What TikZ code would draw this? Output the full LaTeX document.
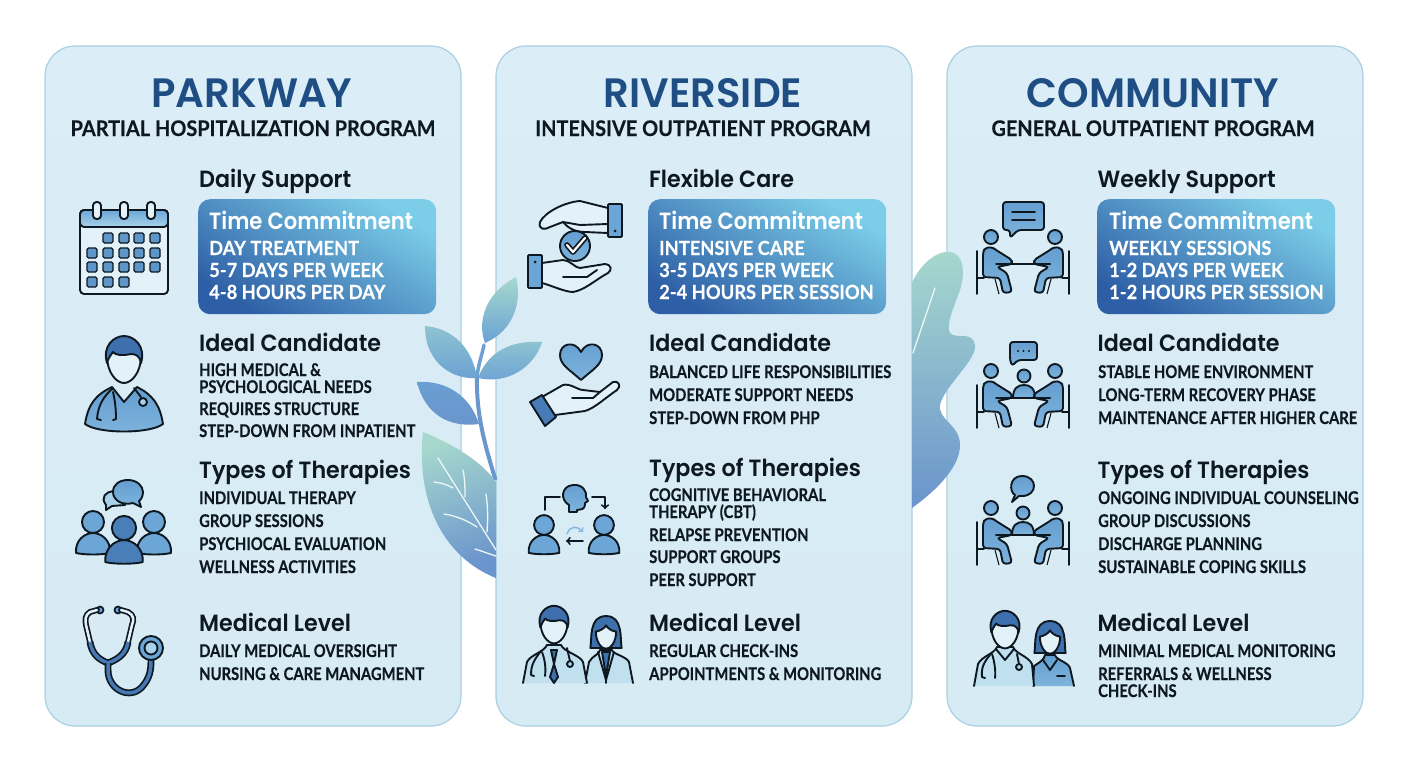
\documentclass[tikz,border=0pt]{standalone}
\usepackage{fontspec}
\setmainfont{Lato}
\newfontfamily\headfont[FakeStretch=0.945]{Poppins SemiBold}
\newfontfamily\titlefont[FakeStretch=0.98]{Poppins SemiBold}
\newfontfamily\timefont[FakeStretch=0.9]{Poppins SemiBold}
\newfontfamily\itemfont[FakeStretch=0.845,FakeBold=0.35]{Lato}
\newfontfamily\subfont[FakeStretch=0.925,FakeBold=0.25]{Lato}
\newfontfamily\linefont[FakeStretch=0.94,FakeBold=0.25]{Lato}
\definecolor{cardfill}{HTML}{D7EBF5}
\definecolor{paperfill}{HTML}{E3F1F8}
\definecolor{cardedge}{HTML}{A8CFE2}
\definecolor{ink}{HTML}{0E1820}
\definecolor{titleblue}{HTML}{1F4E84}
\definecolor{boxdark}{HTML}{2E5FA6}
\definecolor{boxmid}{HTML}{4A80BE}
\definecolor{boxlight}{HTML}{7CCDE8}
\definecolor{iconblue}{HTML}{6BA6D6}
\definecolor{iconlight}{HTML}{A9D2EA}
\definecolor{icondark}{HTML}{3F70AE}
\definecolor{leafteal}{HTML}{A6D8CE}
\definecolor{leafblue}{HTML}{6A94CC}
\tikzset{
    cardbox/.style={draw=cardedge, line width=1.2pt, top color=cardfill!90!white, bottom color=cardfill, rounded corners=30pt, minimum width=416pt, minimum height=680pt, inner sep=0pt},
    titletext/.style={anchor=base, text=titleblue, font=\titlefont\fontsize{41}{41}\selectfont},
    subtext/.style={anchor=base, text=ink, font=\subfont\bfseries\fontsize{21.5}{22}\selectfont},
    headtext/.style={anchor=base west, inner sep=0pt, text=ink, font=\headfont\fontsize{23.5}{24}\selectfont},
    itemtext/.style={anchor=base west, inner sep=0pt, text=ink, font=\itemfont\bfseries\fontsize{17.5}{18}\selectfont},
    timebox/.style={anchor=north west, top color=boxlight, middle color=boxmid, bottom color=boxdark, shading angle=-32, rounded corners=12pt, minimum width=238pt, minimum height=115pt, inner sep=0pt},
    timehead/.style={anchor=base west, inner sep=0pt, text=white, font=\timefont\fontsize{23.5}{24}\selectfont},
    timeline/.style={anchor=base west, inner sep=0pt, text=white, font=\linefont\bfseries\fontsize{19.5}{20}\selectfont},
    inkline/.style={draw=ink, line width=1.9pt, line join=round, line cap=round},
    iconshade/.style={top color=iconblue!85!icondark, bottom color=iconblue!70!iconlight},
    leafshade/.style={top color=leafteal, bottom color=leafblue},
    smallleaf/.style={top color=leafteal!60!iconblue, bottom color=iconblue!70!leafblue},
    veinline/.style={draw=white!80!leafteal, line width=1.3pt, line cap=round}
}
% busts and heads, drawn round the centre of the head
\newcommand{\bustshape}[4]{
    \begin{scope}[shift={(#1,#2)}, scale=#3]
        \draw[inkline, fill=#4] (-17,31) .. controls (-18,18) and (-8,11) .. (0,11) .. controls (8,11) and (18,18) .. (17,31) .. controls (8,33) and (-8,33) .. (-17,31) -- cycle;
        \draw[inkline, fill=#4] (0,0) circle (11);
    \end{scope}
}
\newcommand{\manhead}[3]{
    \begin{scope}[shift={(#1,#2)}, scale=#3]
        \draw[inkline, fill=paperfill] (-17,-4) .. controls (-17,12) and (-8,23) .. (0,23) .. controls (8,23) and (17,12) .. (17,-4) .. controls (17,-15) and (10,-22) .. (0,-22) .. controls (-10,-22) and (-17,-15) .. (-17,-4) -- cycle;
        \draw[inkline, fill=icondark] (-17,3) .. controls (-22,-14) and (-10,-24) .. (0,-24) .. controls (10,-24) and (22,-14) .. (17,3) .. controls (16,-3) and (13,-6) .. (7,-6) .. controls (-2,-4) and (-9,-5) .. (-11,-8) .. controls (-14,-4) and (-16,-1) .. (-17,3) -- cycle;
    \end{scope}
}
\newcommand{\womanhead}[3]{
    \begin{scope}[shift={(#1,#2)}, scale=#3]
        \draw[inkline, fill=icondark] (-20,18) .. controls (-18,5) and (-22,-23) .. (0,-23) .. controls (22,-23) and (18,5) .. (20,18) -- cycle;
        \draw[inkline, fill=paperfill] (-13,-3) .. controls (-13,10) and (-6,19) .. (0,19) .. controls (6,19) and (13,10) .. (13,-3) .. controls (6,-4) and (2,-8) .. (0,-11) .. controls (-2,-7) and (-8,-4) .. (-13,-3) -- cycle;
    \end{scope}
}
% one person at a table, seen from the side, left of the origin
\newcommand{\sitter}{
    \draw[inkline] (-46,14) -- (-46,57) (-46,41) -- (-39,41);
    \draw[draw=ink, line width=1.1pt] (-28,42) -- (-24,57);
    \draw[inkline, iconshade] (-32,0) circle (7);
    \draw[inkline, iconshade, rounded corners=3pt] (-38,11) -- (-31,10) -- (-27,13) -- (-11,23) -- (-11,27) -- (-26,30) -- (-16,36) -- (-11,55) -- (-20,56) -- (-23,41) -- (-40,40) -- (-40,15) -- cycle;
}
\newcommand{\meeting}[2]{
    \begin{scope}[shift={(#1,#2)}]
        \sitter
        \begin{scope}[xscale=-1]
            \sitter
        \end{scope}
        \draw[draw=ink, line width=2pt, line cap=round] (-27,27) -- (27,27);
    \end{scope}
}
\begin{document}
\begin{tikzpicture}[x=1pt, y=-1pt]
    \useasboundingbox (0,0) rectangle (1408,768);
    % the three cards
    \node[cardbox] (parkCard) at (253,386) {};
    \node[cardbox] (riverCard) at (704,386) {};
    \node[cardbox] (commCard) at (1155,386) {};
    % plant between the first two cards
    \draw[draw=iconblue!70!leafblue, line width=3.5pt, line cap=round] (484,345) .. controls (482,355) and (478,365) .. (477,378);
    \draw[draw=leafblue!85!iconblue, line width=4pt] (477,376) .. controls (476,415) and (485,445) .. (495.5,480);
    \path[top color=leafteal, bottom color=iconblue!80!leafblue] (485,343) .. controls (478,325) and (482,295) .. (516,277) .. controls (522,300) and (515,330) .. (485,343) -- cycle;
    \path[smallleaf] (478,378) .. controls (488,352) and (510,340) .. (542,342) .. controls (535,365) and (510,385) .. (478,378) -- cycle;
    \path[smallleaf] (425,326) .. controls (450,328) and (472,345) .. (477,378) .. controls (455,380) and (425,365) .. (425,326) -- cycle;
    \path[top color=iconblue!60!leafblue, bottom color=leafblue] (417,382) .. controls (445,380) and (470,395) .. (479,424) .. controls (450,428) and (425,415) .. (417,382) -- cycle;
    \path[leafshade, shading angle=20] (423,432) .. controls (455,445) and (482,462) .. (496,482) -- (496,578) .. controls (450,560) and (415,510) .. (423,432) -- cycle;
    \draw[veinline] (438,458) -- (496,550);
    \draw[veinline] (434,482) .. controls (442,483) and (448,485) .. (453,488) (463,470) .. controls (465,480) and (465,488) .. (465,497) (444,514) .. controls (457,516) and (468,521) .. (477,527) (486,494) .. controls (488,508) and (488,520) .. (487,532) (475,549) .. controls (482,551) and (489,554) .. (496,556);
    % leaf between the last two cards
    \path[leafshade] (912,283) .. controls (918,268) and (935,250) .. (950,252) .. controls (965,254) and (965,275) .. (960,290) .. controls (955,305) and (945,325) .. (950,333) .. controls (957,340) and (972,330) .. (975,345) .. controls (977,360) and (945,385) .. (940,405) .. controls (938,420) and (960,425) .. (960,445) .. controls (960,470) and (930,495) .. (912,508) -- cycle;
    \draw[veinline] (935,288) -- (913,353);

    % PARKWAY
    \node[titletext] (parkTitle) at (252,107) {PARKWAY};
    \node[subtext] (parkSub) at (253,136) {PARTIAL HOSPITALIZATION PROGRAM};
    \node[headtext] (parkHeadA) at (199,187) {Daily Support};
    \node[timebox] (parkTime) at (198,199) {};
    \node[timehead] (parkTimeHead) at (209,229) {Time Commitment};
    \node[timeline] (parkTimeA) at (209,255) {DAY TREATMENT};
    \node[timeline] (parkTimeB) at (209,277) {5-7 DAYS PER WEEK};
    \node[timeline] (parkTimeC) at (209,299) {4-8 HOURS PER DAY};
    \node[headtext] (parkHeadB) at (199,351) {Ideal Candidate};
    \node[itemtext] (parkIdealA) at (199,376) {HIGH MEDICAL \&};
    \node[itemtext] (parkIdealB) at (199,393) {PSYCHOLOGICAL NEEDS};
    \node[itemtext] (parkIdealC) at (199,415) {REQUIRES STRUCTURE};
    \node[itemtext] (parkIdealD) at (199,437) {STEP-DOWN FROM INPATIENT};
    \node[headtext] (parkHeadC) at (199,478) {Types of Therapies};
    \node[itemtext] (parkTypeA) at (199,504) {INDIVIDUAL THERAPY};
    \node[itemtext] (parkTypeB) at (199,527) {GROUP SESSIONS};
    \node[itemtext] (parkTypeC) at (199,550) {PSYCHIOCAL EVALUATION};
    \node[itemtext] (parkTypeD) at (199,573) {WELLNESS ACTIVITIES};
    \node[headtext] (parkHeadD) at (199,631) {Medical Level};
    \node[itemtext] (parkMedA) at (199,657) {DAILY MEDICAL OVERSIGHT};
    \node[itemtext] (parkMedB) at (199,680) {NURSING \& CARE MANAGMENT};

    % RIVERSIDE
    \node[titletext] (riverTitle) at (703,107) {RIVERSIDE};
    \node[subtext] (riverSub) at (703,136) {INTENSIVE OUTPATIENT PROGRAM};
    \node[headtext] (riverHeadA) at (649,187) {Flexible Care};
    \node[timebox] (riverTime) at (648,199) {};
    \node[timehead] (riverTimeHead) at (659,229) {Time Commitment};
    \node[timeline] (riverTimeA) at (659,255) {INTENSIVE CARE};
    \node[timeline] (riverTimeB) at (659,277) {3-5 DAYS PER WEEK};
    \node[timeline] (riverTimeC) at (659,299) {2-4 HOURS PER SESSION};
    \node[headtext] (riverHeadB) at (649,351) {Ideal Candidate};
    \node[itemtext] (riverIdealA) at (649,378) {BALANCED LIFE RESPONSIBILITIES};
    \node[itemtext] (riverIdealB) at (649,401) {MODERATE SUPPORT NEEDS};
    \node[itemtext] (riverIdealC) at (649,424) {STEP-DOWN FROM PHP};
    \node[headtext] (riverHeadC) at (649,476) {Types of Therapies};
    \node[itemtext] (riverTypeA) at (649,501) {COGNITIVE BEHAVIORAL};
    \node[itemtext] (riverTypeB) at (649,518) {THERAPY (CBT)};
    \node[itemtext] (riverTypeC) at (649,541) {RELAPSE PREVENTION};
    \node[itemtext] (riverTypeD) at (649,563) {SUPPORT GROUPS};
    \node[itemtext] (riverTypeE) at (649,586) {PEER SUPPORT};
    \node[headtext] (riverHeadD) at (649,631) {Medical Level};
    \node[itemtext] (riverMedA) at (649,657) {REGULAR CHECK-INS};
    \node[itemtext] (riverMedB) at (649,680) {APPOINTMENTS \& MONITORING};

    % COMMUNITY
    \node[titletext] (commTitle) at (1153,107) {COMMUNITY};
    \node[subtext] (commSub) at (1153,136) {GENERAL OUTPATIENT PROGRAM};
    \node[headtext] (commHeadA) at (1097.5,187) {Weekly Support};
    \node[timebox] (commTime) at (1097,199) {};
    \node[timehead] (commTimeHead) at (1109,229) {Time Commitment};
    \node[timeline] (commTimeA) at (1109,255) {WEEKLY SESSIONS};
    \node[timeline] (commTimeB) at (1109,277) {1-2 DAYS PER WEEK};
    \node[timeline] (commTimeC) at (1109,299) {1-2 HOURS PER SESSION};
    \node[headtext] (commHeadB) at (1097.5,351) {Ideal Candidate};
    \node[itemtext] (commIdealA) at (1098,378) {STABLE HOME ENVIRONMENT};
    \node[itemtext] (commIdealB) at (1098,401) {LONG-TERM RECOVERY PHASE};
    \node[itemtext] (commIdealC) at (1098,424) {MAINTENANCE AFTER HIGHER CARE};
    \node[headtext] (commHeadC) at (1097.5,478) {Types of Therapies};
    \node[itemtext] (commTypeA) at (1098,504) {ONGOING INDIVIDUAL COUNSELING};
    \node[itemtext] (commTypeB) at (1098,527) {GROUP DISCUSSIONS};
    \node[itemtext] (commTypeC) at (1098,550) {DISCHARGE PLANNING};
    \node[itemtext] (commTypeD) at (1098,573) {SUSTAINABLE COPING SKILLS};
    \node[headtext] (commHeadD) at (1097.5,631) {Medical Level};
    \node[itemtext] (commMedA) at (1098,657) {MINIMAL MEDICAL MONITORING};
    \node[itemtext] (commMedB) at (1098,680) {REFERRALS \& WELLNESS};
    \node[itemtext] (commMedC) at (1098,697) {CHECK-INS};

    % calendar
    \draw[inkline, fill=paperfill, rounded corners=4pt] (80,210) rectangle (168,294);
    \draw[inkline, top color=iconblue, bottom color=iconlight, rounded corners=4pt] (80,227) -- (80,210) -- (168,210) -- (168,227) -- cycle;
    \foreach \ringx in {97,124,151}
        \draw[inkline, fill=paperfill, rounded corners=3.5pt] (\ringx-4,202) rectangle (\ringx+4,219);
    \foreach \gridx/\gridy in {108/238,124/238,139/238,155/238,92/253,108/253,124/253,139/253,155/253,92/267,108/267,124/267,139/267,155/267,92/282,108/282,124/282}
        \draw[draw=ink, line width=1.4pt, fill=iconblue!70!icondark, rounded corners=1.5pt] (\gridx-5,\gridy-5) rectangle (\gridx+5,\gridy+5);

    % doctor
    \draw[inkline, iconshade] (85,424) .. controls (88,405) and (95,395) .. (112,387) -- (124,402) -- (137,387) .. controls (153,395) and (160,405) .. (163,424) .. controls (150,434) and (98,434) .. (85,424) -- cycle;
    \manhead{124}{360}{1}
    \draw[inkline] (113,388) .. controls (104,396) and (98,405) .. (97,419) -- (101,420) (113,420) -- (116,419) .. controls (116,410) and (115,400) .. (113,392) (134,388) -- (141,397);
    \draw[inkline, fill=iconlight] (143,402) circle (4);

    % group and speech bubbles
    \draw[inkline, fill=iconlight] (106,505) .. controls (100,497) and (106,492) .. (113,491) -- (125,505) -- (112,506) -- (106,510) -- cycle;
    \draw[inkline, iconshade] (141,507) -- (133,503) .. controls (122,506) and (113,500) .. (113,492) .. controls (113,484) and (120,480) .. (128,480) .. controls (137,480) and (143,486) .. (143,492) .. controls (143,496) and (141,500) .. (139,501) -- cycle;
    \bustshape{93}{522}{1}{iconblue}
    \bustshape{154}{522}{1}{iconblue}
    \bustshape{124}{528}{1.1}{icondark!75!iconblue}

    % stethoscope
    \draw[draw=ink, line width=1.7pt, fill=iconblue] (100,610) circle (3.5) (118,610) circle (3.5);
    \draw[draw=ink, line width=1.7pt, line cap=round, double=paperfill, double distance=2.5pt] (97,610) -- (90,612) .. controls (85,615) and (85,620) .. (86,625) -- (90,642) (121,610) -- (128,612) .. controls (134,615) and (134,620) .. (132,625) -- (128,642);
    \draw[draw=ink, line width=1.7pt, double=icondark!85!iconblue, double distance=3.5pt] (90,642) .. controls (92,655) and (100,660) .. (108,663) .. controls (116,660) and (126,655) .. (128,642);
    \draw[draw=ink, line width=1.7pt, double=icondark!85!iconblue, double distance=3.5pt] (108,663) -- (108,670) .. controls (108,690) and (130,700) .. (142,687) .. controls (150,678) and (151,670) .. (151,660);
    \draw[inkline, fill=iconblue] (151,648) circle (12);
    \draw[inkline, fill=iconlight] (151,648) circle (6.5);

    % two hands and a check mark
    \draw[inkline, fill=paperfill] (608,208) -- (580,201) .. controls (565,202) and (545,212) .. (540,222) .. controls (538,230) and (545,230) .. (550,227) -- (563,222) .. controls (568,228) and (575,232) .. (585,232) -- (608,233);
    \draw[inkline] (563,222) -- (580,225) -- (608,224);
    \draw[inkline, fill=iconblue, rounded corners=1pt] (608,204) rectangle (622,237);
    \fill[ink] (615,231) circle (1.5);
    \draw[inkline, iconshade] (575,246) circle (15);
    \draw[draw=ink, line width=1.7pt, double=white, double distance=2.2pt, line cap=round, line join=round] (567,245) -- (573,252) -- (585,238);
    \draw[inkline, fill=paperfill] (542,263) -- (563,260) .. controls (570,260) and (575,268) .. (580,268) -- (605,264) .. controls (612,265) and (612,270) .. (608,273) .. controls (595,280) and (585,290) .. (573,292) .. controls (565,292) and (550,285) .. (542,283);
    \draw[inkline] (563,277) -- (587,277) -- (597,270);
    \draw[inkline, fill=iconblue, rounded corners=1pt] (528,255) rectangle (542,288);
    \fill[ink] (535,262) circle (1.5);

    % heart in a hand
    \draw[inkline, iconshade] (581,380) .. controls (570,370) and (560,365) .. (560,355) .. controls (560,343) and (575,340) .. (581,352) .. controls (587,340) and (602,343) .. (602,355) .. controls (602,365) and (592,370) .. (581,380) -- cycle;
    \draw[inkline, fill=paperfill] (542,397) -- (563,385) .. controls (570,383) and (578,390) .. (583,390) -- (600,392) -- (613,382) .. controls (618,380) and (622,386) .. (617,390) .. controls (605,398) and (595,408) .. (585,411) -- (555,415);
    \draw[inkline] (572,398) -- (593,398) -- (600,392);
    \draw[inkline, fill=icondark!80!iconblue] (530,402) -- (542,395) -- (556,417) -- (545,426) -- cycle;

    % head, two people and arrows
    \draw[inkline, iconshade] (569,512) -- (569,505) .. controls (560,500) and (561,486) .. (573,485) .. controls (583,484) and (587,492) .. (586,497) -- (588,501) -- (585,503) .. controls (585,510) and (582,509) .. (577,510) -- (577,512) -- cycle;
    \bustshape{544}{525}{0.9}{iconblue}
    \bustshape{604}{525}{0.9}{iconblue}
    \draw[inkline] (545,510) -- (545,497) -- (560,497);
    \draw[inkline, ->] (592,497) -- (605,497) -- (605,509);
    \draw[inkline, ->] (583,541) -- (566,541);
    \draw[draw=iconblue!60!iconlight, line width=1.5pt, ->] (567,534) .. controls (570,525) and (578,526) .. (583,532);

    % two doctors, white coats
    \draw[inkline, fill=iconlight!50!cardfill] (585,683) -- (589,662) .. controls (592,656) and (600,654) .. (600,650) -- (612,650) .. controls (612,654) and (626,656) .. (629,662) -- (633,683);
    \draw[inkline, fill=icondark] (602,652) -- (606,676) -- (610,652) -- cycle;
    \draw[inkline] (598,652) -- (606,680) -- (614,652) (606,680) -- (606,683);
    \womanhead{606}{634}{0.78}
    \draw[inkline, fill=iconlight!50!cardfill] (523,683) -- (527,662) .. controls (530,655) and (544,652) .. (547,645) -- (561,645) .. controls (564,652) and (580,655) .. (583,662) -- (587,683);
    \draw[inkline, fill=icondark] (551,650) -- (554,664) -- (550,677) -- (554,683) -- (558,677) -- (554,664) -- (557,650) -- cycle;
    \manhead{554}{625}{0.8}
    \draw[inkline] (541,651) .. controls (534,660) and (531,665) .. (531,675) -- (534,676) (545,676) .. controls (546,668) and (545,660) .. (542,652);
    \draw[inkline, fill=iconlight] (570,664) circle (3);
    \draw[inkline] (567,648) -- (570,661);

    % meeting with a note
    \meeting{1023}{237}
    \draw[inkline, iconshade, rounded corners=3pt] (1003,202) -- (1044,202) -- (1044,230) -- (1018,230) -- (1010,238) -- (1010,230) -- (1003,230) -- cycle;
    \draw[inkline] (1012,212) -- (1035,212) (1012,220) -- (1035,220);

    % meeting of three
    \draw[inkline, iconshade] (1013,398) .. controls (1013,388) and (1018,385) .. (1024,385) .. controls (1030,385) and (1035,388) .. (1035,398) -- cycle;
    \draw[inkline, iconshade] (1024,376) circle (6.5);
    \meeting{1023}{371}
    \draw[inkline, iconshade, rounded corners=3pt] (1010,342) -- (1037,342) -- (1037,360) -- (1018,360) -- (1012,366) -- (1010,360) -- cycle;
    \foreach \dotx in {1018,1023.5,1029}
        \fill[ink] (\dotx,351) circle (1.2);

    % meeting with a round bubble
    \draw[inkline, iconshade] (1012,535) .. controls (1012,525) and (1017,522) .. (1023,522) .. controls (1029,522) and (1034,525) .. (1034,535) -- cycle;
    \draw[inkline, iconshade] (1023,513) circle (6.5);
    \meeting{1023}{508}
    \draw[inkline, iconshade] (1012,502) -- (1015,495) .. controls (1009,492) and (1009,476) .. (1022,476) .. controls (1038,476) and (1038,496) .. (1022,496) -- (1019,496) -- cycle;

    % doctor and nurse
    \draw[inkline, iconshade] (1033,686) -- (1034,666) .. controls (1040,662) and (1044,660) .. (1045,655) -- (1055,655) .. controls (1056,660) and (1068,662) .. (1070,668) -- (1074,686);
    \draw[inkline] (1043,660) -- (1050,670) -- (1057,660) (1057,676) -- (1065,676);
    \womanhead{1050}{639}{0.78}
    \draw[inkline, fill=iconlight!50!cardfill] (974,686) -- (978,664) .. controls (982,656) and (994,654) .. (997,647) -- (1013,647) .. controls (1016,654) and (1028,656) .. (1032,664) -- (1034,686);
    \draw[inkline] (996,649) -- (1005,660) -- (1014,649);
    \manhead{1005}{630}{0.8}
    \draw[inkline] (990,655) .. controls (984,662) and (981,668) .. (982,677) -- (985,678) (995,678) .. controls (996,670) and (994,660) .. (992,654) (1017,654) -- (1019,664);
    \draw[inkline, fill=iconlight] (1019,667) circle (3);
\end{tikzpicture}
\end{document}
